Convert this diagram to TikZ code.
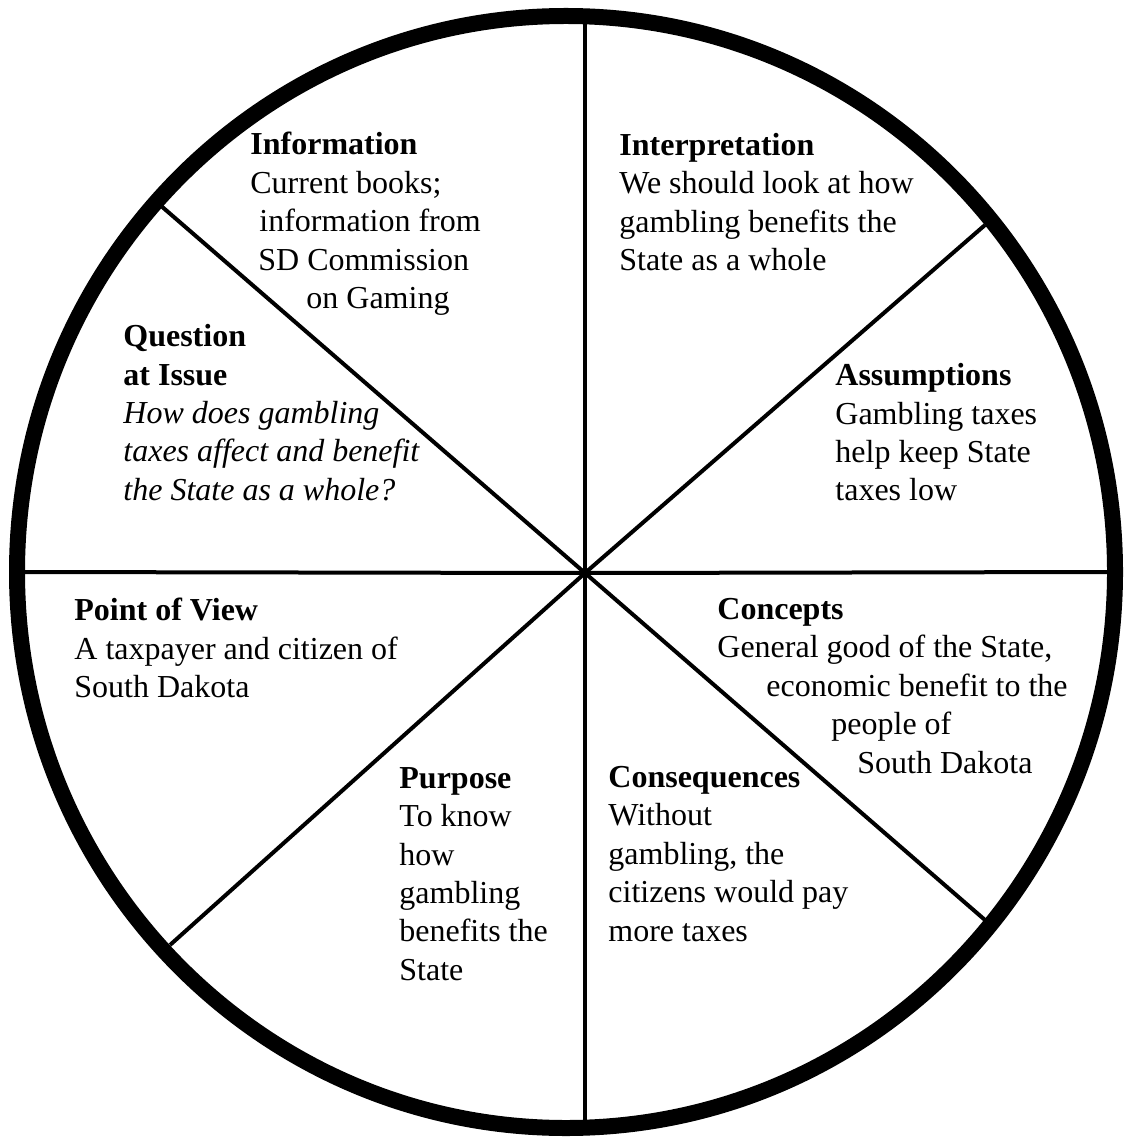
\documentclass[tikz,border=0pt]{standalone}
\usepackage{fontspec}
\setmainfont{Liberation Serif}
\begin{document}
\begin{tikzpicture}[x=0.5pt,y=-0.5pt,
    spoke/.style={line width=2pt},
    rim/.style={line width=8pt},
    part/.style={anchor=north west,inner sep=0pt,align=left,
      font=\fontsize{16}{19.2}\selectfont}]
    \useasboundingbox (0,0) rectangle (1131,1138);

    % wheel
    \coordinate (mid) at (566,572);
    \coordinate (hub) at (585,573);
    \coordinate (n) at (585,16);
    \coordinate (s) at (585,1128);
    \coordinate (w) at (16,572);
    \coordinate (e) at (1115,572);
    \coordinate (nw) at (160,205);
    \coordinate (ne) at (985,225);
    \coordinate (se) at (985,920);
    \coordinate (sw) at (170,945);
    \foreach \p in {n,s,w,e,nw,ne,se,sw}
      \draw [spoke] (hub) -- (\p);
    \draw [rim] (mid) ellipse [x radius=274.5pt,y radius=278pt];

    % the eight parts
    \node [part] (info) at (250,132) {\textbf{Information}\\Current books;\\
      \hspace*{4.5pt}information from\\\hspace*{4pt}SD Commission\\
      \hspace*{28pt}on Gaming};
    \node [part] (interp) at (619,133) {\textbf{Interpretation}\\
      We should look at how\\gambling benefits the\\State as a whole};
    \node [part] (quest) at (123,324) {\textbf{Question}\\\textbf{at Issue}\\
      \textit{How does gambling}\\\textit{taxes affect and benefit}\\
      \textit{the State as a whole?}};
    \node [part] (assum) at (835,363) {\textbf{Assumptions}\\Gambling taxes\\
      help keep State\\taxes low};
    \node [part] (view) at (74,598) {\textbf{Point of View}\\
      A taxpayer and citizen of\\South Dakota};
    \node [part] (conc) at (717,598) {\textbf{Concepts}\\General good of the State,\\
      \hspace*{24.5pt}economic benefit to the\\\hspace*{57pt}people of\\
      \hspace*{70pt}South Dakota};
    \node [part] (purp) at (399,767) {\textbf{Purpose}\\To know\\how\\gambling\\
      benefits the\\State};
    \node [part] (conseq) at (608,766) {\textbf{Consequences}\\Without\\
      gambling, the\\citizens would pay\\more taxes};
  \end{tikzpicture}
\end{document}
